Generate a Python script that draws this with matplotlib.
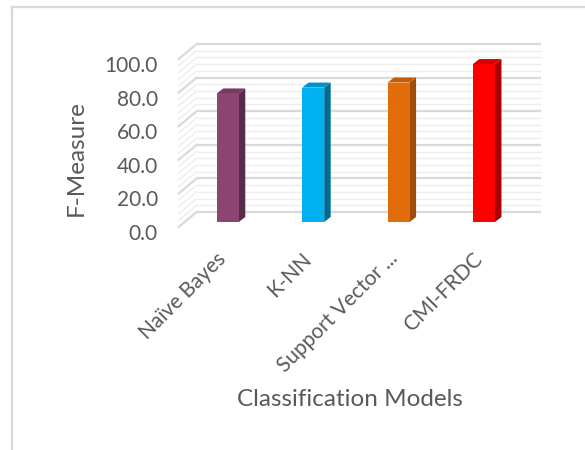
import matplotlib
matplotlib.use("Agg")
import matplotlib.pyplot as plt
from matplotlib.patches import Polygon
from matplotlib.lines import Line2D
import numpy as np

# ---- data -------------------------------------------------------------
categories = ["Naïve Bayes", "K-NN", "Support Vector ...", "CMI-FRDC"]
f_measure = [76.5, 80.0, 83.0, 94.0]
y_ticks = [0, 20, 40, 60, 80, 100]
y_tick_labels = ["0.0", "20.0", "40.0", "60.0", "80.0", "100.0"]

front_colors = ["#8C4572", "#00B0F0", "#E36C0A", "#FF0000"]
side_colors = ["#5A2A4A", "#006C94", "#9E4C07", "#A80000"]
top_colors = ["#763A60", "#0092C8", "#C45D08", "#D80000"]

TEXT = "#595959"
FONT = "Lato"

# ---- pseudo-3D geometry (in data units) -------------------------------
WALL_DX, WALL_DY = 0.21, 11.9      # depth of the back wall
BAR_DX, BAR_DY = 0.076, 3.0        # depth of each bar prism
BAR_W = 0.258
bar_shift_x, bar_shift_y = WALL_DX / 2, WALL_DY / 2   # bars sit mid-depth
label_shift_x = -0.03
XL, XR = -0.47, 3.56

fig = plt.figure(figsize=(5.85, 4.5), dpi=100)
ax = fig.add_axes([178.7 / 585, (450 - 232) / 450, 344.1 / 585, 168 / 450])
ax.set_xlim(XL, XR)
ax.set_ylim(0, 100)
for s in ax.spines.values():
    s.set_visible(False)

# back wall gridlines + side wall diagonals
for yv in range(0, 101, 4):
    major = yv % 20 == 0
    col = "#D9D9D9" if major else "#EDEDED"
    lw = 1.6 if major else 1.0
    ax.plot([XL + WALL_DX, XR + WALL_DX], [yv + WALL_DY, yv + WALL_DY],
            color=col, lw=lw, clip_on=False, zorder=1, solid_capstyle="butt")
    ax.plot([XL, XL + WALL_DX], [yv + 3.0, yv + WALL_DY],
            color=col, lw=lw, clip_on=False, zorder=1)

# bars
x = np.arange(len(categories))
for xi, v, fc, sc, tc in zip(x, f_measure, front_colors, side_colors, top_colors):
    cx = xi + bar_shift_x
    y0 = bar_shift_y
    left, right = cx - BAR_W / 2, cx + BAR_W / 2
    ax.add_patch(Polygon([(right, y0), (right, y0 + v),
                          (right + BAR_DX, y0 + v + BAR_DY),
                          (right + BAR_DX, y0 + BAR_DY)],
                         closed=True, facecolor=sc, edgecolor="none",
                         zorder=3, clip_on=False))
    ax.add_patch(Polygon([(left, y0 + v), (right, y0 + v),
                          (right + BAR_DX, y0 + v + BAR_DY),
                          (left + BAR_DX, y0 + v + BAR_DY)],
                         closed=True, facecolor=tc, edgecolor="none",
                         zorder=3, clip_on=False))
    ax.bar(cx, v, width=BAR_W, bottom=y0, color=fc, zorder=4, clip_on=False)

# axes text
ax.set_yticks(y_ticks)
ax.set_yticklabels(y_tick_labels, fontsize=15, color=TEXT, family=FONT)
ax.set_xticks(x + label_shift_x)
ax.set_xticklabels(categories, rotation=45, ha="right", va="top",
                   rotation_mode="anchor", fontsize=15, color=TEXT,
                   family=FONT)
ax.tick_params(axis="y", length=0, pad=15)
ax.tick_params(axis="x", length=0, pad=12)

ax.set_ylabel("F-Measure", fontsize=17.5, color=TEXT, family=FONT, va="center")
ax.yaxis.set_label_coords(-0.298, 0.44)
ax.set_xlabel("Classification Models", fontsize=17.5, color=TEXT, family=FONT,
              va="center")
ax.xaxis.set_label_coords(0.498, -1.0)

# chart-area frame
fig.add_artist(Line2D([12 / 585, 12 / 585], [0, (450 - 7) / 450],
                      transform=fig.transFigure, color="#D9D9D9", lw=1.6))
fig.add_artist(Line2D([12 / 585, 1], [(450 - 7) / 450, (450 - 7) / 450],
                      transform=fig.transFigure, color="#D9D9D9", lw=1.6))

fig.savefig("out.png", dpi=100)
